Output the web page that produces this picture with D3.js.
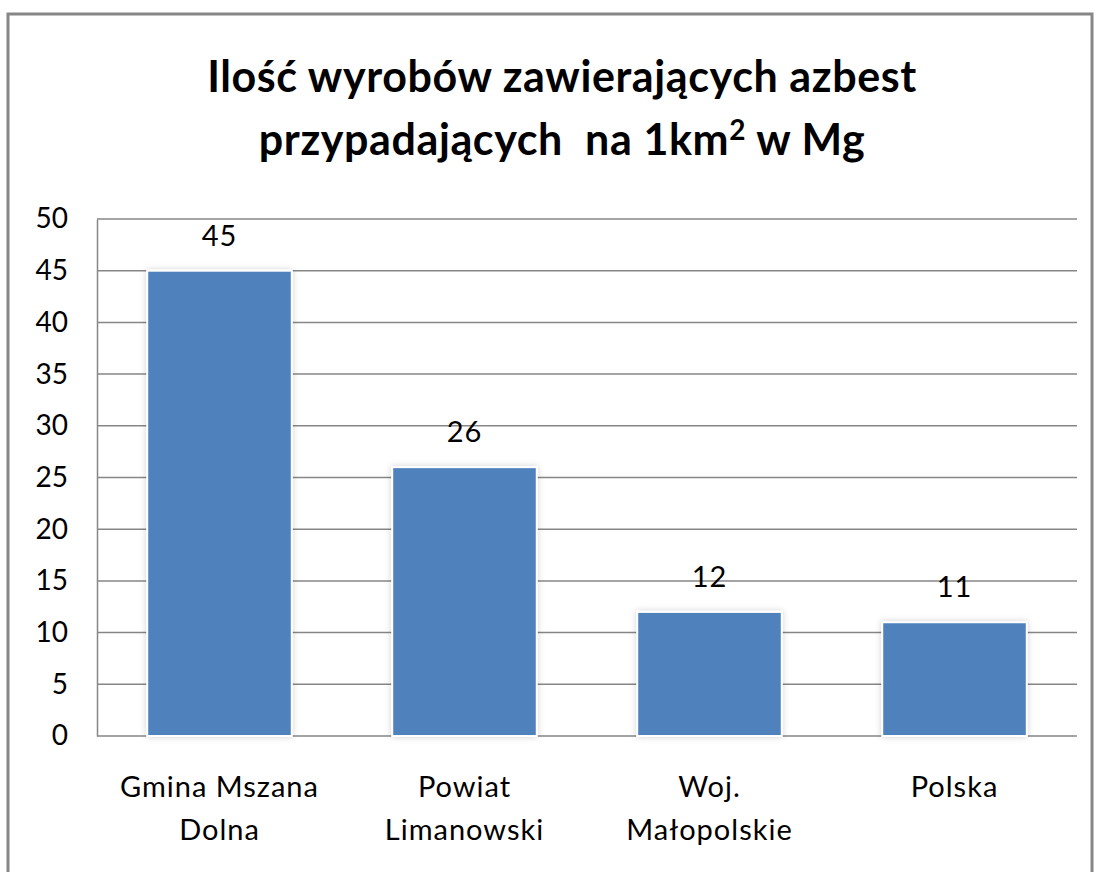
<!DOCTYPE html>
<html>
<head>
<meta charset="utf-8">
<script src="https://cdn.jsdelivr.net/npm/d3@7"></script>
<style>
  body { margin: 0; background: #fff; }
  svg text { font-family: Lato, "Open Sans", sans-serif; fill: #000; }
</style>
</head>
<body>
<div id="chart"></div>
<script>
const categories = [["Gmina Mszana", "Dolna"], ["Powiat", "Limanowski"], ["Woj.", "Małopolskie"], ["Polska"]];
const values = [45, 26, 12, 11];
const yTicks = [0, 5, 10, 15, 20, 25, 30, 35, 40, 45, 50];
const titleLines = ["Ilość wyrobów zawierających azbest", "przypadających  na 1km"];

const width = 1099, height = 872;
const margin = {top: 219, right: 22, bottom: 136, left: 97};

const svg = d3.select('#chart').append('svg')
    .attr('width', width).attr('height', height);

const defs = svg.append('defs');
const shadow = defs.append('filter').attr('id', 'shadow')
    .attr('x', '-10%').attr('y', '-10%').attr('width', '120%').attr('height', '120%');
shadow.append('feDropShadow')
    .attr('dx', 0).attr('dy', 0).attr('stdDeviation', 3)
    .attr('flood-color', '#000').attr('flood-opacity', 0.18);

// outer frame
svg.append('rect')
    .attr('x', 8).attr('y', 14)
    .attr('width', 1084).attr('height', 880)
    .attr('fill', 'none').attr('stroke', '#868686').attr('stroke-width', 3);

// title
const title = svg.append('text')
    .attr('text-anchor', 'middle')
    .style('white-space', 'pre')
    .style('font-weight', 'bold').style('font-size', '43px')
    .style('letter-spacing', '0.6px');
title.append('tspan').attr('x', 562).attr('y', 92).text(titleLines[0]);
const l2 = title.append('tspan').attr('x', 562).attr('y', 155);
l2.append('tspan').text(titleLines[1]);
l2.append('tspan').attr('dy', -15).style('font-size', '28px').text('2');
l2.append('tspan').attr('dy', 15).text(' w Mg');

const chartW = width - margin.left - margin.right;
const chartH = height - margin.top - margin.bottom;

const x = d3.scaleBand(d3.range(values.length), [0, chartW]).paddingInner(0.41).paddingOuter(0.205);
const y = d3.scaleLinear([0, 50], [chartH, 0]);

const chart = svg.append('g').attr('transform', `translate(${margin.left},${margin.top})`);

// grid lines
chart.append('g')
    .selectAll('line').data(yTicks).join('line')
    .attr('x1', 0).attr('x2', chartW)
    .attr('y1', d => y(d)).attr('y2', d => y(d))
    .attr('stroke', '#868686').attr('stroke-width', 1.5);

// y axis
const axisY = chart.append('g')
    .call(d3.axisLeft(y).tickValues(yTicks).tickSize(0).tickPadding(29));
axisY.select('.domain').attr('stroke', '#868686').attr('stroke-width', 1.5);
axisY.selectAll('text').style('font-size', '28px').attr('font-family', null);

// bars
chart.selectAll('rect.bar').data(values).join('rect')
    .classed('bar', true)
    .attr('x', (d, i) => x(i))
    .attr('y', d => y(d))
    .attr('width', x.bandwidth())
    .attr('height', d => chartH - y(d))
    .attr('fill', '#4F81BD')
    .attr('stroke', '#fff').attr('stroke-width', 2)
    .attr('filter', 'url(#shadow)');

// value labels
chart.selectAll('text.val').data(values).join('text')
    .classed('val', true)
    .attr('x', (d, i) => x(i) + x.bandwidth() / 2)
    .attr('y', d => y(d) - 25)
    .attr('text-anchor', 'middle')
    .style('font-size', '29px').style('letter-spacing', '1px')
    .text(d => d);

// category labels
const cat = chart.selectAll('text.cat').data(categories).join('text')
    .classed('cat', true)
    .attr('text-anchor', 'middle')
    .style('font-size', '29px').style('letter-spacing', '1px');
cat.selectAll('tspan').data((d, i) => d.map(t => ({t, i}))).join('tspan')
    .attr('x', d => x(d.i) + x.bandwidth() / 2)
    .attr('y', (d, j) => chartH + 61 + j * 43)
    .text(d => d.t);
</script>
</body>
</html>
